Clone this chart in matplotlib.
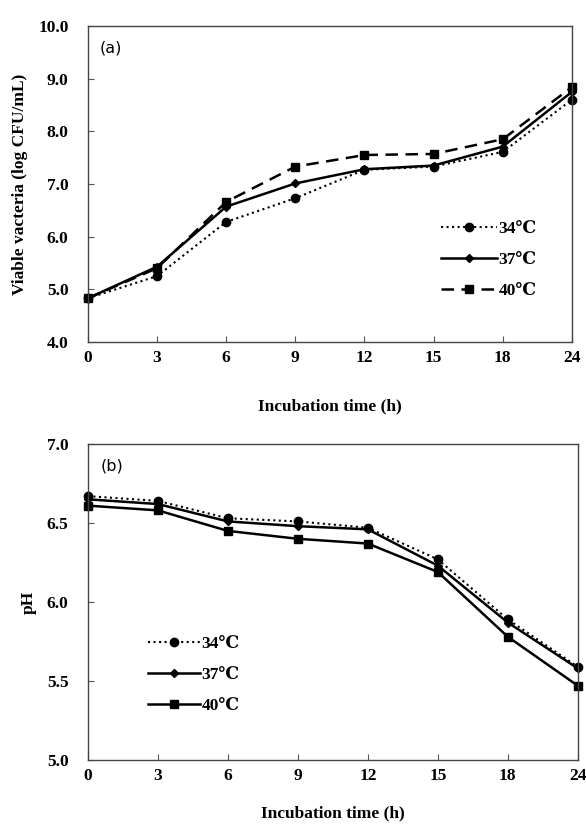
import matplotlib.pyplot as plt
import numpy as np

times = ['0', '3', '6', '9', '12', '15', '18', '24']
temps = ['34\u2103', '37\u2103', '40\u2103']

# (a) viable bacteria, log CFU/mL
cfu_34 = [4.83, 5.25, 6.28, 6.73, 7.27, 7.33, 7.61, 8.60]
cfu_37 = [4.83, 5.43, 6.57, 7.01, 7.28, 7.35, 7.71, 8.75]
cfu_40 = [4.83, 5.40, 6.66, 7.33, 7.55, 7.57, 7.85, 8.84]

# (b) pH
ph_34 = [6.67, 6.64, 6.53, 6.51, 6.47, 6.27, 5.89, 5.59]
ph_37 = [6.65, 6.62, 6.51, 6.48, 6.46, 6.23, 5.87, 5.58]
ph_40 = [6.61, 6.58, 6.45, 6.40, 6.37, 6.19, 5.78, 5.47]

plt.rcParams['font.family'] = ['Liberation Serif', 'DejaVu Serif']
plt.rcParams['font.weight'] = 'bold'

fig = plt.figure(figsize=[5.86, 8.25], dpi=100)
ax1 = fig.add_axes([0.150, 0.5855, 0.826, 0.383])
ax2 = fig.add_axes([0.150, 0.0788, 0.836, 0.383])

x = np.arange(len(times))


def style(ax, ylim, yticks, tag):
    ax.set_xlim(0, len(times) - 1)
    ax.set_ylim(*ylim)
    ax.set_xticks(x)
    ax.set_xticklabels(times)
    ax.set_yticks(yticks)
    ax.set_yticklabels(['%.1f' % v for v in yticks])
    ax.tick_params(direction='in', length=4, width=0.8, labelsize=12.5,
                   color='#555555')
    ax.tick_params(axis='y', pad=14)
    ax.tick_params(axis='x', pad=6)
    for lab in ax.get_xticklabels() + ax.get_yticklabels():
        lab.set_fontweight('bold')
    for s in ax.spines.values():
        s.set_linewidth(1.0)
        s.set_color('#444444')
    ax.set_xlabel('Incubation time (h)', fontsize=12.5, fontweight='bold', labelpad=23)
    ax.text(0.025, 0.955, tag, transform=ax.transAxes, fontsize=11.5,
            fontweight='normal', family='DejaVu Sans', va='top')


ax1.plot(x, cfu_34, color='black', linestyle=':', lw=1.5, marker='o', ms=6, label=temps[0], clip_on=False)
ax1.plot(x, cfu_37, color='black', linestyle='-', lw=1.8, marker='D', ms=4, label=temps[1], clip_on=False)
ax1.plot(x, cfu_40, color='black', linestyle=(0, (5, 3)), lw=1.8, marker='s', ms=6, label=temps[2], clip_on=False)
style(ax1, (4.0, 10.0), np.arange(4.0, 10.01, 1.0), '(a)')
ax1.set_ylabel('Viable vacteria (log CFU/mL)', fontsize=12.5, fontweight='bold', labelpad=7)
ax1.legend(loc='center right', bbox_to_anchor=(0.96, 0.26), frameon=False,
           handlelength=3.2, labelspacing=0.85, handletextpad=0.1,
           prop={'weight': 'bold', 'size': 12.5})

ax2.plot(x, ph_34, color='black', linestyle=':', lw=1.5, marker='o', ms=6, label=temps[0], clip_on=False)
ax2.plot(x, ph_37, color='black', linestyle='-', lw=1.8, marker='D', ms=4, label=temps[1], clip_on=False)
ax2.plot(x, ph_40, color='black', linestyle='-', lw=1.8, marker='s', ms=6, label=temps[2], clip_on=False)
style(ax2, (5.0, 7.0), np.arange(5.0, 7.01, 0.5), '(b)')
ax2.set_ylabel('pH', fontsize=12.5, fontweight='bold', labelpad=7)
ax2.legend(loc='center left', bbox_to_anchor=(0.09, 0.27), frameon=False,
           handlelength=3.0, labelspacing=0.85, handletextpad=0.1,
           prop={'weight': 'bold', 'size': 12.5})
ax2.xaxis.labelpad = 15

plt.savefig('out.png', dpi=100)
